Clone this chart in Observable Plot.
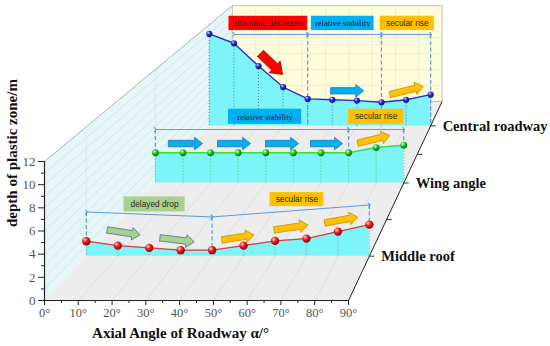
<!DOCTYPE html>
<html><head><meta charset="utf-8">
<script src="https://cdn.jsdelivr.net/npm/d3@7"></script>
<script src="https://cdn.jsdelivr.net/npm/@observablehq/plot@0.6"></script>
<style>body{margin:0;background:#fff}</style>
</head><body><div id="chart"></div>
<script>
// ---------- data ----------
const angles = [0, 10, 20, 30, 40, 50, 60, 70, 80, 90];
const middleRoof = [1.39, 0.98, 0.77, 0.56, 0.56, 0.98, 1.42, 1.63, 2.28, 2.93];
const wingAngle = [3.2, 3.2, 3.2, 3.2, 3.2, 3.2, 3.2, 3.2, 3.75, 4.0];
const centralRoadway = [10.9, 9.8, 7.1, 4.6, 3.2, 3.1, 3.0, 2.8, 3.1, 3.7];
const layerNames = ["Middle roof", "Wing angle", "Central roadway"];
const xTicks = [0, 10, 20, 30, 40, 50, 60, 70, 80, 90];
const xMinor = [5, 15, 25, 35, 45, 55, 65, 75, 85];
const yTicks = [0, 2, 4, 6, 8, 10, 12];
const yMinor = [1, 3, 5, 7, 9, 11];

// phase labels (layer index, angle span, value span, text)
const phaseLabels = [
  {layer: 2, text: "dramatic decrease", a0: 8, a1: 40, v0: 11.3, v1: 13.0, kind: "red", serif: false},
  {layer: 2, text: "relative stability", a0: 41.5, a1: 67, v0: 11.3, v1: 13.0, kind: "blue", serif: true},
  {layer: 2, text: "secular rise", a0: 69.5, a1: 91.5, v0: 11.3, v1: 13.0, kind: "orange", serif: false},
  {layer: 1, text: "relative stability", a0: 26.5, a1: 53, v0: 6.2, v1: 7.8, kind: "blue", serif: true},
  {layer: 1, text: "secular rise", a0: 70, a1: 90, v0: 6.2, v1: 7.8, kind: "orange", serif: false},
  {layer: 0, text: "delayed drop", a0: 12, a1: 31.4, v0: 4.1, v1: 5.5, kind: "green", serif: false},
  {layer: 0, text: "secular rise", a0: 58.4, a1: 75.5, v0: 4.6, v1: 5.9, kind: "orange", serif: false}
];
// phase brackets
const spans = [
  {layer: 2, a0: 10, v0: 10.84, a1: 40, v1: 10.84},
  {layer: 2, a0: 40, v0: 10.84, a1: 70, v1: 10.84},
  {layer: 2, a0: 70, v0: 10.84, a1: 90, v1: 10.84},
  {layer: 1, a0: 0, v0: 5.65, a1: 70, v1: 5.65},
  {layer: 1, a0: 70, v0: 5.65, a1: 90, v1: 5.65},
  {layer: 0, a0: 0, v0: 4.1, a1: 40, v1: 3.64},
  {layer: 0, a0: 40, v0: 3.64, a1: 90, v1: 4.75}
];
const dividers = [
  {layer: 2, a: 40, v: 10.84}, {layer: 2, a: 70, v: 10.84}, {layer: 2, a: 90, v: 10.84},
  {layer: 1, a: 0, v: 5.65}, {layer: 1, a: 70, v: 5.65}, {layer: 1, a: 90, v: 5.65},
  {layer: 0, a: 0, v: 4.1}, {layer: 0, a: 40, v: 3.64}, {layer: 0, a: 90, v: 4.75}
];
// trend arrows (tail -> tip)
const trendArrows = [
  {layer: 2, a0: 20.8, v0: 8.6, a1: 29.8, v1: 6.1, kind: "red", big: true},
  {layer: 2, a0: 49.3, v0: 4.16, a1: 62.8, v1: 4.16, kind: "blue"},
  {layer: 2, a0: 73.4, v0: 3.72, a1: 87.0, v1: 4.67, kind: "orange"},
  {layer: 1, a0: 4.7, v0: 4.17, a1: 17.1, v1: 4.17, kind: "blue"},
  {layer: 1, a0: 22.5, v0: 4.17, a1: 34.5, v1: 4.17, kind: "blue"},
  {layer: 1, a0: 39.9, v0: 4.17, a1: 51.9, v1: 4.17, kind: "blue"},
  {layer: 1, a0: 56.2, v0: 4.17, a1: 67.8, v1: 4.17, kind: "blue"},
  {layer: 1, a0: 73.3, v0: 4.21, a1: 84.9, v1: 5.02, kind: "orange"},
  {layer: 0, a0: 6.6, v0: 2.44, a1: 17.1, v1: 1.97, kind: "green"},
  {layer: 0, a0: 23.4, v0: 1.70, a1: 34.3, v1: 1.32, kind: "green"},
  {layer: 0, a0: 43.1, v0: 1.51, a1: 53.3, v1: 1.97, kind: "orange"},
  {layer: 0, a0: 59.7, v0: 2.44, a1: 70.5, v1: 2.90, kind: "orange"},
  {layer: 0, a0: 75.8, v0: 3.08, a1: 86.3, v1: 3.64, kind: "orange"}
];

// ---------- styles / projection ----------
const W = 550, H = 346;
const mL = 44, mR = 202, mT = 161, mB = 46;
const kx = (W - mR - mL) / 90, ky = (H - mB - mT) / 12;
const VP = {a: (650 - mL) / kx, v: (H - mB + 342) / ky};  // vanishing point (data units of front plane)
const layerScale = [0.931, 0.817, 0.728];
const backScale = 0.69;
const P = (a, v, s) => ({x: VP.a + s * (a - VP.a), y: VP.v + s * (v - VP.v)});
const SERIF = "Liberation Serif", SANS = "Liberation Sans";

const kindFill = {red: "#ff0000", blue: "#00b0f0", orange: "#ffc000", green: "#a9d18e"};
const kindEdge = {red: "#a00000", blue: "#2e75b6", orange: "#c59000", green: "#41719c"};
const seriesValues = [middleRoof, wingAngle, centralRoadway];
const seriesStyle = [
  {line: "#e03a3a", drop: "#9a8a8a", grad: "gRed", r: 4.2, lw: 1.3},
  {line: "#3ddc3d", drop: "#55bb66", grad: "gGreen", r: 3.4, lw: 1.5},
  {line: "#3030c0", drop: "#4a6ad0", grad: "gBlue", r: 3.1, lw: 1.4}
];

function poly(pts) { return pts.concat([pts[0]]); }
function arrowPoly(d) {
  const s = layerScale[d.layer];
  const p0 = P(d.a0, d.v0, s), p1 = P(d.a1, d.v1, s);
  const x0 = p0.x * kx, y0 = -p0.y * ky, x1 = p1.x * kx, y1 = -p1.y * ky;
  const L = Math.hypot(x1 - x0, y1 - y0), ux = (x1 - x0) / L, uy = (y1 - y0) / L, nx = -uy, ny = ux;
  const w = d.big ? 4.3 : 3.2, h = d.big ? 8 : 6.3, hl = d.big ? 11 : 8;
  const bx = x1 - ux * hl, by = y1 - uy * hl;
  const pts = [[x0 + nx * w, y0 + ny * w], [bx + nx * w, by + ny * w], [bx + nx * h, by + ny * h], [x1, y1],
               [bx - nx * h, by - ny * h], [bx - nx * w, by - ny * w], [x0 - nx * w, y0 - ny * w]];
  return poly(pts.map(([x, y]) => ({x: x / kx, y: -y / ky})));
}

const marks = [];
// walls
const leftWall = poly([P(0, 0, 1), P(0, 12, 1), P(0, 12, backScale), P(0, 0, backScale)]);
const floor = poly([P(0, 0, 1), P(90, 0, 1), P(90, 0, backScale), P(0, 0, backScale)]);
const backWall = poly([P(0, 0, backScale), P(90, 0, backScale), P(90, 12, backScale), P(0, 12, backScale)]);
marks.push(Plot.line(leftWall, {x: "x", y: "y", fill: "#e6f5f7", stroke: "none"}));
marks.push(Plot.line(floor, {x: "x", y: "y", fill: "#ededed", stroke: "none"}));
marks.push(Plot.line(backWall, {x: "x", y: "y", fill: "#fefcda", stroke: "#b4b4b4", strokeWidth: 0.8}));
// grids
const wallGrid = d3.range(1, 12).map(v => ({p1: P(0, v, 1), p2: P(0, v, backScale)}));
marks.push(Plot.link(wallGrid, {x1: d => d.p1.x, y1: d => d.p1.y, x2: d => d.p2.x, y2: d => d.p2.y, stroke: "#cadfe3", strokeWidth: 0.7}));
const wallV = layerScale.map(s => ({p1: P(0, 0, s), p2: P(0, 12, s)}));
marks.push(Plot.link(wallV, {x1: d => d.p1.x, y1: d => d.p1.y, x2: d => d.p2.x, y2: d => d.p2.y, stroke: "#c4d6da", strokeWidth: 0.7, strokeDasharray: "1.5,1.5"}));
const floorGrid = xTicks.slice(1, -1).map(a => ({p1: P(a, 0, 1), p2: P(a, 0, backScale)}));
marks.push(Plot.link(floorGrid, {x1: d => d.p1.x, y1: d => d.p1.y, x2: d => d.p2.x, y2: d => d.p2.y, stroke: "#dadada", strokeWidth: 0.7}));
const backGrid = xTicks.slice(1, -1).map(a => ({p1: P(a, 0, backScale), p2: P(a, 12, backScale)}))
  .concat([2, 4, 6, 8, 10].map(v => ({p1: P(0, v, backScale), p2: P(90, v, backScale)})));
marks.push(Plot.link(backGrid, {x1: d => d.p1.x, y1: d => d.p1.y, x2: d => d.p2.x, y2: d => d.p2.y, stroke: "#ebe6c2", strokeWidth: 0.7}));
marks.push(Plot.link([{p1: P(0, 12, 1), p2: P(0, 12, backScale)}], {x1: d => d.p1.x, y1: d => d.p1.y, x2: d => d.p2.x, y2: d => d.p2.y, stroke: "#a8a8a8", strokeWidth: 0.9}));

// layers, back to front
for (const li of [2, 1, 0]) {
  const s = layerScale[li], st = seriesStyle[li], vals = seriesValues[li];
  const pts = angles.map((a, i) => ({a, v: vals[i], p: P(a, vals[i], s), b: P(a, 0, s)}));
  marks.push(Plot.areaY(pts, {x: d => d.p.x, y1: d => d.b.y, y2: d => d.p.y, fill: "#7df4f7"}));
  marks.push(Plot.link(pts, {x1: d => d.p.x, y1: d => d.p.y, x2: d => d.b.x, y2: d => d.b.y, stroke: st.drop, strokeWidth: 0.9, strokeDasharray: "1,2"}));
  const dv = dividers.filter(d => d.layer === li).map(d => {
    const endV = li === 2 ? 0 : vals[angles.indexOf(d.a)];
    return {p1: P(d.a, d.v, s), p2: P(d.a, endV, s)};
  });
  marks.push(Plot.link(dv, {x1: d => d.p1.x, y1: d => d.p1.y, x2: d => d.p2.x, y2: d => d.p2.y, stroke: "#5b9bd5", strokeWidth: 1.2, strokeDasharray: "4,2.5"}));
  const sp = spans.filter(d => d.layer === li).map(d => ({p1: P(d.a0, d.v0, s), p2: P(d.a1, d.v1, s)}));
  marks.push(Plot.link(sp, {x1: d => d.p1.x, y1: d => d.p1.y, x2: d => d.p2.x, y2: d => d.p2.y, stroke: "#5b9bd5", strokeWidth: 1, markerStart: "arrow", markerEnd: "arrow"}));
  marks.push(Plot.line(pts, {x: d => d.p.x, y: d => d.p.y, stroke: st.line, strokeWidth: st.lw}));
  marks.push(Plot.dot(pts, {x: d => d.p.x, y: d => d.p.y, r: st.r, fill: `url(#${st.grad})`, stroke: "none"}));
  for (const ar of trendArrows.filter(d => d.layer === li)) {
    marks.push(Plot.line(arrowPoly(ar), {x: "x", y: "y", fill: kindFill[ar.kind], stroke: kindEdge[ar.kind], strokeWidth: 0.8}));
  }
  const labs = phaseLabels.filter(d => d.layer === li).map(d => ({...d, q0: P(d.a0, d.v0, s), q1: P(d.a1, d.v1, s)}));
  marks.push(Plot.rect(labs, {x1: d => d.q0.x, x2: d => d.q1.x, y1: d => d.q0.y, y2: d => d.q1.y, fill: d => kindFill[d.kind]}));
  marks.push(Plot.text(labs.filter(d => !d.serif), {x: d => (d.q0.x + d.q1.x) / 2, y: d => (d.q0.y + d.q1.y) / 2, text: "text", fontSize: 8.3, fontFamily: SANS, fill: "#2a2a2a"}));
  marks.push(Plot.text(labs.filter(d => d.serif), {x: d => (d.q0.x + d.q1.x) / 2, y: d => (d.q0.y + d.q1.y) / 2, text: "text", fontSize: 8.6, fontFamily: SERIF, fill: "#1a1a40"}));
}

// right depth edge with ticks and layer names
marks.push(Plot.link([{p1: P(90, 0, 1), p2: P(90, 0, backScale)}], {x1: d => d.p1.x, y1: d => d.p1.y, x2: d => d.p2.x, y2: d => d.p2.y, stroke: "#222", strokeWidth: 1}));
const depthTicks = layerScale.concat([(layerScale[0] + layerScale[1]) / 2, (layerScale[1] + layerScale[2]) / 2]).map(s => P(90, 0, s));
marks.push(Plot.link(depthTicks, {x1: "x", y1: "y", x2: d => d.x + 5 / kx, y2: "y", stroke: "#333", strokeWidth: 1}));
const layerLab = layerNames.map((n, i) => ({n, p: P(90, 0, layerScale[i])}));
marks.push(Plot.text(layerLab, {x: d => d.p.x, y: d => d.p.y, text: "n", dx: 12, textAnchor: "start", fontWeight: "bold", fontSize: 14.5, fontFamily: SERIF, fill: "#111"}));

// front axes
marks.push(Plot.ruleY([0], {x1: 0, x2: 90, stroke: "#222", strokeWidth: 1.2}));
marks.push(Plot.ruleX([0], {y1: 0, y2: 12, stroke: "#222", strokeWidth: 1.2}));
marks.push(Plot.axisX({ticks: xTicks, tickSize: 5, tickPadding: 3, tickFormat: d => d + "°", fontSize: 12.5, fontFamily: SERIF, stroke: "#222", fill: "#555", label: null}));
marks.push(Plot.axisX({ticks: xMinor, tickSize: 3, tickFormat: () => "", stroke: "#222", label: null}));
marks.push(Plot.axisY({ticks: yTicks, tickSize: 6, tickPadding: 3, fontSize: 13, fontFamily: SERIF, stroke: "#222", fill: "#555", label: null}));
marks.push(Plot.axisY({ticks: yMinor, tickSize: 3, tickFormat: () => "", stroke: "#222", label: null}));
marks.push(Plot.text(["Axial Angle of Roadway α/°"], {frameAnchor: "bottom", dy: 37, dx: -16, fontWeight: "bold", fontSize: 15, fontFamily: SERIF, fill: "#111"}));
marks.push(Plot.text(["depth of plastic zone/m"], {frameAnchor: "left", rotate: -90, dx: -32, dy: -4, fontWeight: "bold", fontSize: 15, fontFamily: SERIF, fill: "#111"}));

const chart = Plot.plot({
  width: W, height: H,
  marginLeft: mL, marginRight: mR, marginTop: mT, marginBottom: mB,
  x: {domain: [0, 90]}, y: {domain: [0, 12]},
  style: {fontFamily: SERIF, background: "white", overflow: "visible"},
  marks
});
// make sure axis tick labels use the serif face
d3.select(chart).selectAll('g[aria-label$="tick label"], g[aria-label$="tick label"] text').attr("font-family", SERIF).style("font-family", SERIF);
const defs = d3.select(chart).insert("defs", ":first-child");
[["gRed", "#ffd0d0", "#ee1a1a", "#8a0000"], ["gGreen", "#d8ffd8", "#22cc22", "#0a6a0a"], ["gBlue", "#c8c8ff", "#2a2ad8", "#0a0a70"]].forEach(([id, c0, c1, c2]) => {
  const g = defs.append("radialGradient").attr("id", id).attr("cx", "35%").attr("cy", "32%").attr("r", "70%");
  g.append("stop").attr("offset", "0%").attr("stop-color", c0);
  g.append("stop").attr("offset", "45%").attr("stop-color", c1);
  g.append("stop").attr("offset", "100%").attr("stop-color", c2);
});
document.getElementById("chart").appendChild(chart);
</script>
</body></html>
